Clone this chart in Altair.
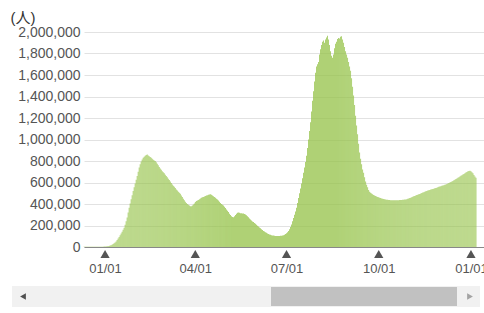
import altair as alt
import pandas as pd

# Daily values in thousands of people
dec_2021 = [1.2, 1.3, 1.3, 1.4, 1.4, 1.5, 1.5, 1.6, 1.7, 1.8, 1.9, 2.0, 2.1, 2.2, 2.3, 2.5, 2.7, 2.9, 3.1, 3.3, 3.6]
jan_2022 = [4, 5, 6, 8, 10, 13, 17, 22, 28, 35, 43, 52, 64, 78, 94, 110, 126, 142, 160, 180, 208, 240, 275, 320,
            365, 405, 445, 482, 520, 555, 590]
feb_2022 = [625, 660, 700, 740, 770, 795, 815, 830, 840, 850, 855, 860, 852, 845, 838, 830, 822, 812, 805, 800,
            788, 775, 760, 745, 730, 718, 705, 695]
mar_2022 = [685, 672, 660, 648, 636, 624, 610, 595, 582, 570, 560, 548, 536, 525, 515, 505, 495, 480, 465, 450,
            435, 420, 410, 400, 392, 385, 380, 378, 385, 395, 405]
apr_2022 = [418, 428, 432, 438, 445, 452, 458, 462, 466, 470, 474, 478, 482, 486, 488, 490, 486, 480, 472, 465,
            458, 450, 442, 432, 422, 410, 400, 392, 385, 375]
may_2022 = [362, 350, 338, 325, 310, 298, 285, 278, 276, 285, 298, 310, 318, 320, 318, 315, 314, 312, 312, 308,
            302, 295, 286, 276, 266, 256, 246, 238, 232, 224, 216]
jun_2022 = [208, 198, 190, 182, 174, 166, 158, 150, 144, 138, 132, 126, 121, 117, 113, 110, 108, 106, 104, 103,
            102, 102, 102, 103, 104, 105, 107, 110, 114, 120]
jul_2022 = [128, 138, 150, 165, 185, 210, 240, 270, 300, 330, 365, 410, 455, 500, 545, 590, 640, 690, 740, 790,
            850, 920, 1000, 1080, 1160, 1260, 1360, 1450, 1540, 1620, 1680]
aug_2022 = [1700, 1720, 1790, 1840, 1880, 1910, 1920, 1900, 1930, 1950, 1965, 1930, 1880, 1820, 1780, 1760, 1790,
            1850, 1890, 1910, 1935, 1945, 1940, 1955, 1960, 1930, 1900, 1860, 1820, 1790, 1760]
sep_2022 = [1720, 1680, 1640, 1570, 1490, 1410, 1320, 1220, 1130, 1050, 960, 880, 820, 770, 720, 690, 650, 610,
            580, 555, 530, 515, 505, 497, 490, 484, 478, 474, 470, 466]
oct_2022 = [462, 458, 455, 452, 449, 446, 444, 442, 440, 439, 438, 437, 436, 435, 435, 434, 434, 434, 435, 435,
            436, 437, 438, 438, 439, 440, 441, 443, 445, 448, 451]
nov_2022 = [455, 459, 463, 467, 471, 475, 479, 483, 486, 490, 494, 498, 502, 506, 510, 514, 518, 522, 525, 528,
            531, 534, 537, 540, 543, 546, 549, 552, 556, 560]
dec_2022 = [563, 566, 569, 572, 575, 578, 582, 586, 590, 595, 600, 605, 610, 615, 620, 626, 632, 638, 644, 650,
            656, 662, 668, 674, 680, 686, 692, 698, 704, 708, 710]
jan_2023 = [705, 695, 685, 670, 655, 645]

tick_dates = ["2022-01-01", "2022-04-01", "2022-07-01", "2022-10-01", "2023-01-01"]
y_ticks = [0, 200000, 400000, 600000, 800000, 1000000, 1200000, 1400000, 1600000, 1800000, 2000000]

values_k = (dec_2021 + jan_2022 + feb_2022 + mar_2022 + apr_2022 + may_2022 + jun_2022 + jul_2022
            + aug_2022 + sep_2022 + oct_2022 + nov_2022 + dec_2022 + jan_2023)
dates = pd.date_range("2021-12-11", periods=len(values_k), freq="D")
df = pd.DataFrame({"date": dates.strftime("%Y-%m-%d"), "people": [v * 1000 for v in values_k]})
ticks_df = pd.DataFrame({"date": tick_dates})

FONT = "Liberation Sans, Arial, Noto Sans CJK JP, sans-serif"
W, H = 400, 215

x_scale = alt.Scale(type="utc", padding=0,
                    domain=[alt.DateTime(year=2021, month=12, date=11, utc=True),
                            alt.DateTime(year=2023, month=1, date=14, utc=True)])

x_axis = alt.Axis(values=[alt.DateTime(year=int(d[:4]), month=int(d[5:7]), date=1, utc=True) for d in tick_dates],
                  labelExpr="utcFormat(datum.value, '%m/%d')", title=None, ticks=False, grid=False,
                  domainColor="#888888", labelPadding=15, labelFontSize=13, labelColor="#555555",
                  labelFont=FONT)

bars = alt.Chart(df).mark_bar(size=0.75, color="#94c247").encode(
    x=alt.X("date:T", scale=x_scale, axis=x_axis),
    y=alt.Y("people:Q", scale=alt.Scale(domain=[0, 2000000], nice=False),
            axis=alt.Axis(values=y_ticks, format=",d", ticks=False, domain=False, gridColor="#e2e2e2",
                          labelPadding=4, labelFontSize=14, labelColor="#555555", labelFont=FONT,
                          title="(人)", titleAngle=0, titleAlign="left", titleBaseline="top",
                          titleX=-74, titleY=-22, titleFontSize=15, titleFontWeight="normal",
                          titleColor="#333333", titleFont=FONT)),
)

markers = alt.Chart(ticks_df).mark_point(shape="triangle-up", filled=True, color="#555555",
                                         size=85, opacity=1).encode(
    x=alt.X("date:T", scale=x_scale, axis=x_axis),
    y=alt.value(222),
)

one = pd.DataFrame({"k": [0]})
track = alt.Chart(one).mark_rect(color="#f1f1f1").encode(
    x=alt.value(-72), x2=alt.value(396), y=alt.value(254), y2=alt.value(275))
thumb = alt.Chart(one).mark_rect(color="#c1c1c1").encode(
    x=alt.value(187), x2=alt.value(373), y=alt.value(255), y2=alt.value(274))
left_arrow = alt.Chart(one).mark_point(shape="triangle-left", filled=True, color="#505050",
                                       size=45, opacity=1).encode(x=alt.value(-61), y=alt.value(264.5))
right_arrow = alt.Chart(one).mark_point(shape="triangle-right", filled=True, color="#a3a3a3",
                                        size=45, opacity=1).encode(x=alt.value(386), y=alt.value(264.5))

chart = alt.layer(bars, markers, track, thumb, left_arrow, right_arrow).properties(
    width=W, height=H,
    autosize=alt.AutoSizeParams(type="none"),
    padding={"left": 84, "top": 32, "right": 0, "bottom": 66},
).configure_view(stroke=None)

chart.save("out.html", embed_options={"renderer": "svg", "actions": False})
